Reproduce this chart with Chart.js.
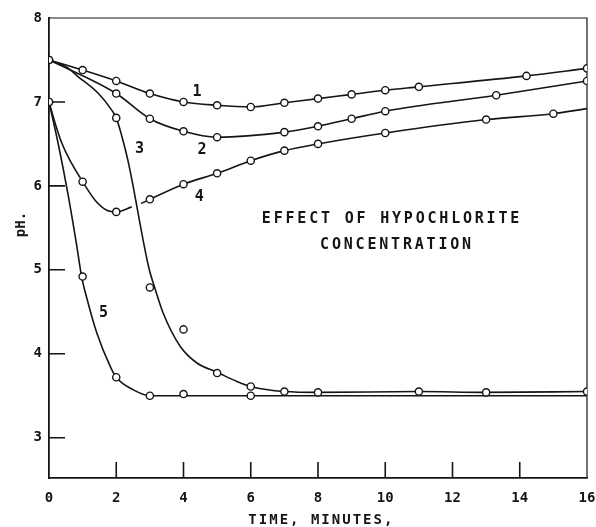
<!DOCTYPE html>
<html>
<head>
<meta charset="utf-8">
<script src="https://cdn.jsdelivr.net/npm/chart.js@4.4.1/dist/chart.umd.min.js"></script>
<style>
  html, body { margin: 0; padding: 0; background: #fff; }
  #phChart { display: block; }
</style>
</head>
<body>
<canvas id="phChart" width="596" height="527"></canvas>
<script>
// curve 1
const time1 = [0, 1, 2, 3, 4, 5, 6, 7, 8, 9, 10, 11, 14.2, 16];
const ph1 = [7.5, 7.38, 7.25, 7.10, 7.0, 6.96, 6.94, 6.99, 7.04, 7.09, 7.14, 7.18, 7.31, 7.40];

// curve 2
const time2 = [0, 2, 3, 4, 5, 7, 8, 9, 10, 13.3, 16];
const ph2 = [7.5, 7.10, 6.80, 6.65, 6.58, 6.64, 6.71, 6.80, 6.89, 7.08, 7.25];

// curve 3 - drawn line and measured points (points sit off the line)
const time3Line = [0, 0.5, 0.87, 1.47, 1.87, 2, 2.16, 2.36, 2.96, 3.15, 3.4, 3.9, 4.4, 5, 5.59, 6, 7, 8, 11, 13, 16];
const ph3Line = [7.5, 7.42, 7.30, 7.10, 6.90, 6.81, 6.60, 6.28, 5.04, 4.78, 4.48, 4.09, 3.89, 3.78, 3.67, 3.61, 3.55, 3.54, 3.55, 3.54, 3.55];
const time3 = [0, 2, 3, 4, 5, 6, 7, 8, 11, 13, 16];
const ph3 = [7.5, 6.81, 4.79, 4.29, 3.77, 3.61, 3.55, 3.54, 3.55, 3.54, 3.55];

// curve 4 - the line breaks where curve 3 crosses it
const time4 = [0, 1, 2, 3, 4, 5, 6, 7, 8, 10, 13, 15];
const ph4 = [7.0, 6.05, 5.69, 5.84, 6.02, 6.15, 6.30, 6.42, 6.50, 6.63, 6.79, 6.86];
const time4LineA = [0, 0.18, 0.38, 0.67, 1, 1.37, 1.72, 2, 2.46];
const ph4LineA = [7.0, 6.75, 6.51, 6.27, 6.05, 5.83, 5.71, 5.69, 5.75];
const time4LineB = [2.74, 3, 4, 5, 6, 7, 8, 10, 13, 15, 16];
const ph4LineB = [5.79, 5.84, 6.02, 6.15, 6.30, 6.42, 6.50, 6.63, 6.79, 6.86, 6.92];

// curve 5
const time5Line = [0, 0.28, 0.57, 0.82, 0.97, 1.12, 1.42, 1.82, 2, 2.51, 3, 4, 6, 16];
const ph5Line = [7.0, 6.49, 5.89, 5.30, 4.92, 4.67, 4.25, 3.85, 3.72, 3.57, 3.5, 3.5, 3.5, 3.5];
const time5 = [0, 1, 2, 3, 4, 6];
const ph5 = [7.0, 4.92, 3.72, 3.50, 3.52, 3.50];

const xTicks = [0, 2, 4, 6, 8, 10, 12, 14, 16];
const yTicks = [3, 4, 5, 6, 7, 8];

const curveNames = ['1', '2', '3', '4', '5'];
const nameX = [4.40, 4.55, 2.69, 4.47, 1.62];
const nameY = [7.12, 6.43, 6.44, 5.87, 4.48];

const INK = '#151515';
const FONT = '"DejaVu Sans Mono", monospace';

function pts(xs, ys) {
  return xs.map((x, i) => ({ x: x, y: ys[i] }));
}

function marks(xs, ys) {
  return {
    data: pts(xs, ys),
    showLine: false,
    pointRadius: 3.6,
    pointBackgroundColor: '#fff',
    pointBorderColor: INK,
    pointBorderWidth: 1.4
  };
}

function curve(xs, ys) {
  return {
    data: pts(xs, ys),
    showLine: true,
    pointRadius: 0,
    borderColor: INK,
    borderWidth: 1.6,
    cubicInterpolationMode: 'monotone',
    fill: false
  };
}

// tick marks inside the frame, top/right border, and the text on the plot
const paperPlugin = {
  id: 'paper',
  beforeDatasetsDraw(chart) {
    const { ctx, chartArea: a, scales: { x, y } } = chart;
    ctx.save();
    ctx.strokeStyle = INK;
    ctx.lineWidth = 1.6;
    ctx.beginPath();
    yTicks.slice(0, -1).forEach(v => {
      const py = y.getPixelForValue(v);
      ctx.moveTo(a.left, py);
      ctx.lineTo(a.left + 16, py);
    });
    xTicks.slice(1, -1).forEach(v => {
      const px = x.getPixelForValue(v);
      ctx.moveTo(px, a.bottom);
      ctx.lineTo(px, a.bottom - 16);
    });
    ctx.stroke();
    ctx.lineWidth = 1.2;
    ctx.beginPath();
    ctx.moveTo(a.left, a.top);
    ctx.lineTo(a.right, a.top);
    ctx.lineTo(a.right, a.bottom);
    ctx.stroke();
    ctx.restore();
  },
  afterDraw(chart) {
    const { ctx, chartArea: a, scales: { x, y } } = chart;
    ctx.save();
    ctx.fillStyle = INK;
    ctx.textAlign = 'center';
    ctx.textBaseline = 'middle';

    ctx.font = 'bold 15px ' + FONT;
    curveNames.forEach((t, i) => {
      ctx.fillText(t, x.getPixelForValue(nameX[i]), y.getPixelForValue(nameY[i]));
    });

    ctx.letterSpacing = '2.8px';
    ctx.fillText('EFFECT OF HYPOCHLORITE', x.getPixelForValue(10.2), y.getPixelForValue(5.6));
    ctx.fillText('CONCENTRATION', x.getPixelForValue(10.35), y.getPixelForValue(5.3));

    ctx.font = 'bold 14px ' + FONT;
    ctx.letterSpacing = '2px';
    ctx.fillText('TIME, MINUTES,', x.getPixelForValue(8.1), a.bottom + 42);

    ctx.letterSpacing = '0px';
    ctx.translate(a.left - 28, y.getPixelForValue(5.54));
    ctx.rotate(-Math.PI / 2);
    ctx.fillText('pH.', 0, 0);
    ctx.restore();
  }
};

new Chart(document.getElementById('phChart'), {
  type: 'scatter',
  data: {
    datasets: [
      marks(time1, ph1),
      marks(time2, ph2),
      marks(time3, ph3),
      marks(time4, ph4),
      marks(time5, ph5),
      curve(time1, ph1),
      curve(time2, ph2),
      curve(time3Line, ph3Line),
      curve(time4LineA, ph4LineA),
      curve(time4LineB, ph4LineB),
      curve(time5Line, ph5Line)
    ]
  },
  options: {
    responsive: false,
    animation: false,
    events: [],
    layout: { padding: { top: 18, right: 9, left: 0, bottom: 0 } },
    plugins: {
      legend: { display: false },
      tooltip: { enabled: false }
    },
    scales: {
      x: {
        type: 'linear',
        min: 0,
        max: 16,
        afterBuildTicks: s => { s.ticks = xTicks.map(v => ({ value: v })); },
        afterFit: s => { s.height = 49; s.paddingLeft = 0; s.paddingRight = 0; },
        grid: { display: false, drawTicks: false },
        border: { display: true, color: INK, width: 1.8 },
        ticks: {
          color: INK,
          padding: 12,
          maxRotation: 0,
          font: { family: FONT, size: 14, weight: 'bold' }
        }
      },
      y: {
        type: 'linear',
        min: 2.52,
        max: 8,
        afterBuildTicks: s => { s.ticks = yTicks.map(v => ({ value: v })); },
        afterFit: s => { s.width = 49; s.paddingTop = 0; s.paddingBottom = 0; },
        grid: { display: false, drawTicks: false },
        border: { display: true, color: INK, width: 1.8 },
        ticks: {
          color: INK,
          padding: 7,
          font: { family: FONT, size: 14, weight: 'bold' }
        }
      }
    }
  },
  plugins: [paperPlugin]
});
</script>
</body>
</html>
